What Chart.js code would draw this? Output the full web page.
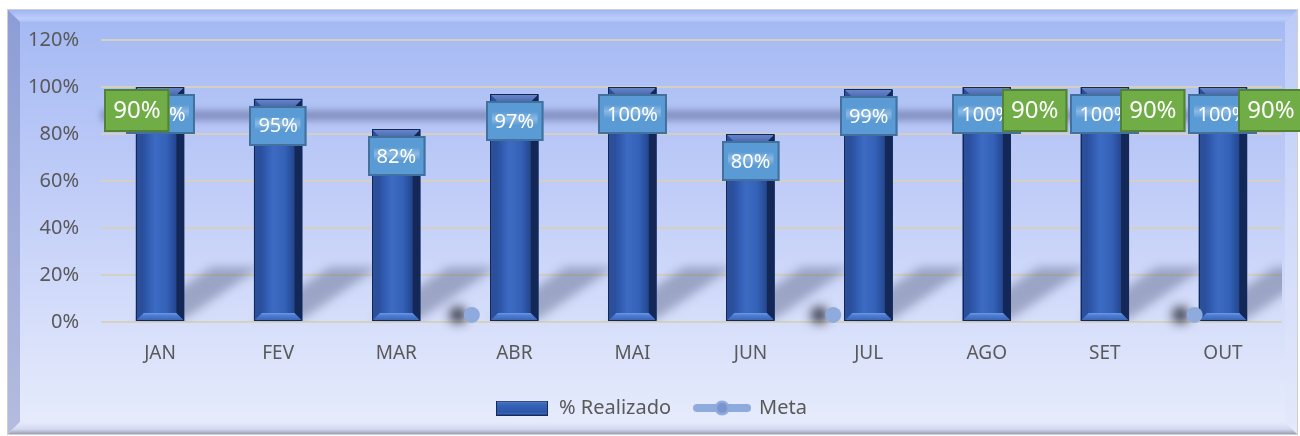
<!DOCTYPE html>
<html lang="pt-BR">
<head>
<meta charset="utf-8">
<title>% Realizado x Meta</title>
<script src="https://cdn.jsdelivr.net/npm/chart.js@4.4.1/dist/chart.umd.min.js"></script>
<style>
  html, body { margin: 0; padding: 0; background: #ffffff; }
  #wrap { width: 1300px; height: 436px; }
</style>
</head>
<body>
<div id="wrap"><canvas id="grafico" width="1300" height="436"></canvas></div>
<script>
const meses = ['JAN', 'FEV', 'MAR', 'ABR', 'MAI', 'JUN', 'JUL', 'AGO', 'SET', 'OUT'];
const realizado = [100, 95, 82, 97, 100, 80, 99, 100, 100, 100];
const meta = [90, 90, 90, 90, 90, 90, 90, 90, 90, 90];
const mesesComRotuloMeta = ['JAN', 'AGO', 'SET', 'OUT'];
// marcadores da meta que aparecem soltos sobre a linha de base
const metaBaseX = [2.64, 5.70, 8.76];
const metaBaseY = [3, 3, 3];
const eixoY = { min: 0, max: 120, passo: 20 };

const FONTE = '"Noto Sans", "DejaVu Sans", sans-serif';
const CINZA = '#595959';
Chart.defaults.font.family = FONTE;
Chart.defaults.color = CINZA;

// amostras da legenda
function amostraBarra() {
  const c = document.createElement('canvas');
  c.width = 52; c.height = 15;
  const x = c.getContext('2d');
  const g = x.createLinearGradient(0, 0, 0, 15);
  g.addColorStop(0, '#5c7cc2');
  g.addColorStop(0.3, '#3563b9');
  g.addColorStop(0.8, '#2c56a8');
  g.addColorStop(1, '#4d7bd2');
  x.fillStyle = g;
  x.fillRect(0, 0, 52, 15);
  x.strokeStyle = '#152a5a';
  x.lineWidth = 1;
  x.strokeRect(0.5, 0.5, 51, 14);
  return c;
}
function amostraMeta() {
  const c = document.createElement('canvas');
  c.width = 58; c.height = 16;
  const x = c.getContext('2d');
  x.strokeStyle = '#8faadc';
  x.lineWidth = 8;
  x.lineCap = 'round';
  x.beginPath(); x.moveTo(4, 8); x.lineTo(54, 8); x.stroke();
  x.fillStyle = '#8faadc';
  x.beginPath(); x.arc(29, 8, 7.5, 0, Math.PI * 2); x.fill();
  x.fillStyle = 'rgba(120,145,205,0.9)';
  x.beginPath(); x.arc(29, 8, 5, 0, Math.PI * 2); x.fill();
  return c;
}
const imgBarra = amostraBarra();
const imgMeta = amostraMeta();

// fundo chanfrado do quadro
const moldura = {
  id: 'moldura',
  beforeDraw(chart) {
    const ctx = chart.ctx;
    const L = 8, T = 10, R = 1297, B = 434, e = 12;
    ctx.save();
    ctx.fillStyle = '#ffffff';
    ctx.fillRect(0, 0, chart.width, chart.height);
    const g = ctx.createLinearGradient(0, T, 0, B);
    g.addColorStop(0, '#a3b8f3');
    g.addColorStop(0.45, '#c2cef8');
    g.addColorStop(1, '#e8edfc');
    ctx.fillStyle = g;
    ctx.fillRect(L, T, R - L, B - T);

    const poly = (pts, fill) => {
      ctx.beginPath();
      ctx.moveTo(pts[0][0], pts[0][1]);
      for (let i = 1; i < pts.length; i++) ctx.lineTo(pts[i][0], pts[i][1]);
      ctx.closePath();
      ctx.fillStyle = fill;
      ctx.fill();
    };
    const gt = ctx.createLinearGradient(0, T, 0, T + e);
    gt.addColorStop(0, '#9fb5f2');
    gt.addColorStop(0.7, '#bccdfa');
    gt.addColorStop(1, '#aebff4');
    poly([[L, T], [R, T], [R - e, T + e], [L + e, T + e]], gt);
    const gl = ctx.createLinearGradient(0, T, 0, B);
    gl.addColorStop(0, '#8c9dd6');
    gl.addColorStop(1, '#b4bcde');
    poly([[L, T], [L + e, T + e], [L + e, B - e], [L, B]], gl);
    const gr = ctx.createLinearGradient(0, T, 0, B);
    gr.addColorStop(0, '#bccbf7');
    gr.addColorStop(1, '#e4e9fb');
    poly([[R, T], [R - e, T + e], [R - e, B - e], [R, B]], gr);
    const gb = ctx.createLinearGradient(0, B - e, 0, B);
    gb.addColorStop(0, '#e6ebfb');
    gb.addColorStop(0.6, '#d3d9f0');
    gb.addColorStop(1, '#9a9fb4');
    poly([[L, B], [L + e, B - e], [R - e, B - e], [R, B]], gb);

    ctx.strokeStyle = '#cfcfcf';
    ctx.lineWidth = 1;
    ctx.strokeRect(L - 0.5, T - 0.5, R - L + 1, B - T + 1);
    ctx.restore();
  }
};

// sombras inclinadas atrás das colunas
const sombras = {
  id: 'sombras',
  beforeDatasetsDraw(chart) {
    const ctx = chart.ctx;
    const barras = chart.getDatasetMeta(0).data;
    ctx.save();
    ctx.beginPath();
    ctx.rect(chart.chartArea.left, chart.chartArea.top, chart.chartArea.width, chart.chartArea.height);
    ctx.clip();
    ctx.filter = 'blur(5px)';
    ctx.fillStyle = 'rgba(80,90,125,0.42)';
    barras.forEach(el => {
      const { x, base, width } = el.getProps(['x', 'base', 'width'], true);
      const l = x - width / 2, r = x + width / 2;
      ctx.beginPath();
      ctx.moveTo(l, base - 2);
      ctx.lineTo(r, base - 2);
      ctx.lineTo(r + 76, base - 54);
      ctx.lineTo(l + 76, base - 54);
      ctx.closePath();
      ctx.fill();
    });
    ctx.restore();
  }
};

// chanfro das colunas, faixa da meta e sombra dos marcadores
const efeitos = {
  id: 'efeitos',
  beforeDatasetDraw(chart, args) {
    const ctx = chart.ctx;
    if (args.index === 1) {
      ctx.save();
      ctx.filter = 'blur(3px)';
      ctx.translate(0, 5);
    } else if (args.index === 2) {
      ctx.save();
      ctx.shadowColor = 'rgba(15,15,25,0.85)';
      ctx.shadowOffsetX = -14;
      ctx.shadowBlur = 11;
    }
  },
  afterDatasetDraw(chart, args) {
    const ctx = chart.ctx;
    if (args.index === 1) {
      const pts = args.meta.data;
      const a = chart.chartArea;
      ctx.strokeStyle = args.meta.dataset.options.borderColor;
      ctx.lineWidth = args.meta.dataset.options.borderWidth;
      ctx.beginPath();
      ctx.moveTo(a.left, pts[0].y);
      ctx.lineTo(pts[0].x, pts[0].y);
      ctx.moveTo(pts[pts.length - 1].x, pts[pts.length - 1].y);
      ctx.lineTo(a.right, pts[pts.length - 1].y);
      ctx.stroke();
      ctx.restore();
      return;
    }
    if (args.index === 2) {
      ctx.restore();
      return;
    }
    if (args.index !== 0) return;
    ctx.save();
    args.meta.data.forEach(el => {
      const { x, y, base, width } = el.getProps(['x', 'y', 'base', 'width'], true);
      const l = x - width / 2, r = x + width / 2, t = y, b = base, e = 8;
      const poly = (pts, fill) => {
        ctx.beginPath();
        ctx.moveTo(pts[0][0], pts[0][1]);
        for (let i = 1; i < pts.length; i++) ctx.lineTo(pts[i][0], pts[i][1]);
        ctx.closePath();
        ctx.fillStyle = fill;
        ctx.fill();
      };
      const gf = ctx.createLinearGradient(l + e, 0, r - e, 0);
      gf.addColorStop(0, '#2a52a4');
      gf.addColorStop(0.35, '#3d6bc3');
      gf.addColorStop(0.7, '#3462b8');
      gf.addColorStop(1, '#24468f');
      ctx.fillStyle = gf;
      ctx.fillRect(l + e, t + e, r - l - 2 * e, b - t - 2 * e);
      poly([[l, t], [l + e, t + e], [l + e, b - e], [l, b]], '#2c4f9c');
      poly([[r, t], [r - e, t + e], [r - e, b - e], [r, b]], '#132857');
      const gt = ctx.createLinearGradient(0, t, 0, t + e);
      gt.addColorStop(0, '#6a88cc');
      gt.addColorStop(1, '#4a69b0');
      poly([[l, t], [r, t], [r - e, t + e], [l + e, t + e]], gt);
      const gb = ctx.createLinearGradient(0, b - e, 0, b);
      gb.addColorStop(0, '#6d98e6');
      gb.addColorStop(0.3, '#4f7dd1');
      gb.addColorStop(1, '#3562b6');
      poly([[l, b], [l + e, b - e], [r - e, b - e], [r, b]], gb);
      ctx.strokeStyle = '#142858';
      ctx.lineWidth = 1;
      ctx.strokeRect(Math.round(l) + 0.5, Math.round(t) + 0.5, Math.round(r - l) - 1, Math.round(b - t) - 1);
    });
    ctx.restore();
  }
};

// caixas de rótulo dos valores
const rotulos = {
  id: 'rotulos',
  afterDatasetsDraw(chart) {
    const ctx = chart.ctx;
    const caixa = (cx, cy, texto, tamFonte, alt, fundo, borda, brilho) => {
      ctx.font = tamFonte + 'px ' + FONTE;
      const larg = ctx.measureText(texto).width + 18;
      const x0 = Math.round(cx - larg / 2), y0 = Math.round(cy - alt / 2);
      ctx.fillStyle = fundo;
      ctx.fillRect(x0, y0, larg, alt);
      if (brilho) {
        const g = ctx.createLinearGradient(0, cy - 9, 0, cy + 4);
        g.addColorStop(0, 'rgba(255,255,255,0)');
        g.addColorStop(0.5, 'rgba(225,240,255,0.35)');
        g.addColorStop(1, 'rgba(255,255,255,0)');
        ctx.fillStyle = g;
        ctx.fillRect(x0 + 6, cy - 9, larg - 12, 13);
      }
      ctx.strokeStyle = borda;
      ctx.lineWidth = 2;
      ctx.strokeRect(x0 + 1, y0 + 1, larg - 2, alt - 2);
      ctx.fillStyle = '#ffffff';
      ctx.textAlign = 'center';
      ctx.textBaseline = 'middle';
      ctx.fillText(texto, cx, cy + 1);
    };
    ctx.save();
    chart.getDatasetMeta(0).data.forEach((el, i) => {
      caixa(el.x, el.y + 27, realizado[i] + '%', 20, 40, '#5b9bd5', '#41719c', true);
    });
    chart.getDatasetMeta(1).data.forEach((el, i) => {
      if (!mesesComRotuloMeta.includes(meses[i])) return;
      const dx = i === 0 ? -23 : 48;
      caixa(el.x + dx, el.y, meta[i] + '%', 24, 43, '#70ad47', '#548235', false);
    });
    ctx.restore();
  }
};

const ctx = document.getElementById('grafico').getContext('2d');
new Chart(ctx, {
  type: 'bar',
  data: {
    labels: meses,
    datasets: [{
      type: 'bar',
      label: '% Realizado',
      data: realizado,
      backgroundColor: '#3563b9',
      borderColor: '#142858',
      borderWidth: 0,
      grouped: false,
      barPercentage: 0.41,
      categoryPercentage: 1,
      order: 1
    }, {
      type: 'line',
      label: 'Meta',
      data: meta,
      borderColor: 'rgba(60,70,115,0.38)',
      borderWidth: 11,
      pointRadius: 0,
      fill: false,
      order: 2
    }, {
      type: 'line',
      label: 'Meta',
      xAxisID: 'x2',
      data: metaBaseX.map((x, i) => ({ x: x, y: metaBaseY[i] })),
      showLine: false,
      pointRadius: 8,
      pointBackgroundColor: '#8faadc',
      pointBorderWidth: 0,
      clip: false,
      order: 0
    }]
  },
  options: {
    responsive: false,
    animation: false,
    layout: { padding: { left: 20, right: 18, top: 40, bottom: 8 } },
    scales: {
      x: {
        grid: { display: false },
        border: { display: false },
        ticks: { padding: 12, color: CINZA, font: { size: 19 } },
        afterFit: s => { s.height = 52; }
      },
      x2: {
        type: 'linear',
        display: false,
        offset: false,
        min: -0.5,
        max: meses.length - 0.5
      },
      y: {
        min: eixoY.min,
        max: eixoY.max,
        ticks: {
          stepSize: eixoY.passo,
          padding: 22,
          color: CINZA,
          font: { size: 20 },
          callback: v => v + '%'
        },
        grid: { color: 'rgba(214,208,190,0.95)', lineWidth: 2, drawTicks: false },
        border: { display: false },
        afterFit: s => { s.width = 81; }
      }
    },
    plugins: {
      tooltip: { enabled: false },
      legend: {
        position: 'bottom',
        labels: {
          usePointStyle: true,
          pointStyleWidth: 54,
          padding: 24,
          color: CINZA,
          font: { size: 20 },
          generateLabels(chart) {
            const itens = Chart.defaults.plugins.legend.labels.generateLabels(chart);
            return itens
              .filter(it => it.datasetIndex !== 2)
              .map(it => {
                it.pointStyle = it.datasetIndex === 0 ? imgBarra : imgMeta;
                return it;
              });
          }
        }
      }
    }
  },
  plugins: [moldura, sombras, efeitos, rotulos]
});
</script>
</body>
</html>
